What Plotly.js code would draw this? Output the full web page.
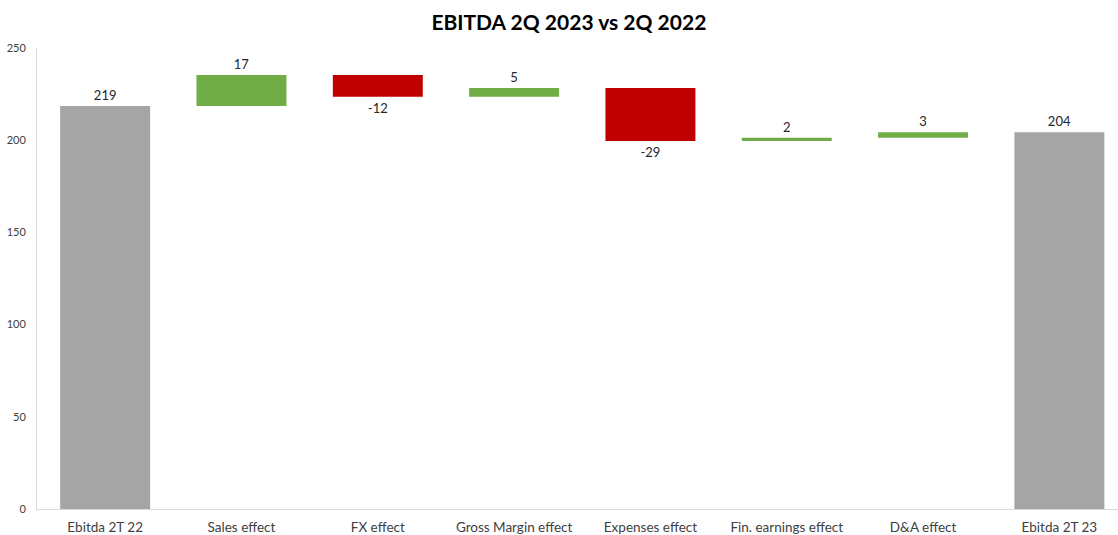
<!DOCTYPE html>
<html>
<head>
<meta charset="utf-8">
<script src="https://cdn.plot.ly/plotly-3.0.1.min.js"></script>
<style>html,body{margin:0;padding:0;background:#fff;}#chart{width:1118px;height:535px;}</style>
</head>
<body>
<div id="chart"></div>
<script>
const categories = ["Ebitda 2T 22", "Sales effect", "FX effect", "Gross Margin effect", "Expenses effect", "Fin. earnings effect", "D&A effect", "Ebitda 2T 23"];
const measures = ["absolute", "relative", "relative", "relative", "relative", "relative", "relative", "total"];
const values = [218.6, 16.8, -11.8, 4.7, -28.8, 1.8, 3.0, 0];
const yTicks = [0, 50, 100, 150, 200, 250];

const colGray = "#A5A5A5", colUp = "#70AD47", colDown = "#C00000";

let run = 0;
const labels = values.map((v, i) => {
  if (measures[i] === "absolute") { run = v; return String(Math.round(v)); }
  if (measures[i] === "total") { return String(Math.round(run)); }
  run += v; return String(Math.round(v));
});

const trace = {
  type: "waterfall",
  x: categories,
  y: values,
  measure: measures,
  text: labels,
  textposition: "outside",
  textfont: {family: "Lato, 'Open Sans', sans-serif", size: 13, color: "#262626"},
  cliponaxis: false,
  width: 0.66,
  connector: {visible: false},
  increasing: {marker: {color: colUp, line: {width: 0}}},
  decreasing: {marker: {color: colDown, line: {width: 0}}},
  totals: {marker: {color: colGray, line: {width: 0}}},
  hoverinfo: "x+y"
};

const layout = {
  width: 1118, height: 535,
  margin: {l: 37, r: 0, t: 48, b: 26, pad: 0},
  paper_bgcolor: "#fff", plot_bgcolor: "#fff",
  showlegend: false,
  title: {text: "<b>EBITDA 2Q 2023 vs 2Q 2022</b>", x: 0.492, xref: "paper", xanchor: "center", y: 0.958, yref: "container", yanchor: "middle",
          font: {family: "Lato, 'Open Sans', sans-serif", size: 21, color: "#000"}},
  xaxis: {
    type: "category", range: [-0.5, 7.43], automargin: false,
    showgrid: false, zeroline: false, showline: true, linecolor: "#D9D9D9", linewidth: 1,
    ticks: "", ticklabelstandoff: 6,
    tickfont: {family: "Lato, 'Open Sans', sans-serif", size: 13.5, color: "#404040"},
    fixedrange: true
  },
  yaxis: {
    range: [0, 250], tickvals: yTicks, ticktext: yTicks.map(String), automargin: false,
    showgrid: false, zeroline: false, showline: true, linecolor: "#D9D9D9", linewidth: 1,
    ticks: "", ticklabelstandoff: 8,
    tickfont: {family: "Lato, 'Open Sans', sans-serif", size: 11, color: "#404040"},
    fixedrange: true
  }
};

Plotly.newPlot("chart", [trace], layout, {displayModeBar: false, staticPlot: true});
</script>
</body>
</html>
